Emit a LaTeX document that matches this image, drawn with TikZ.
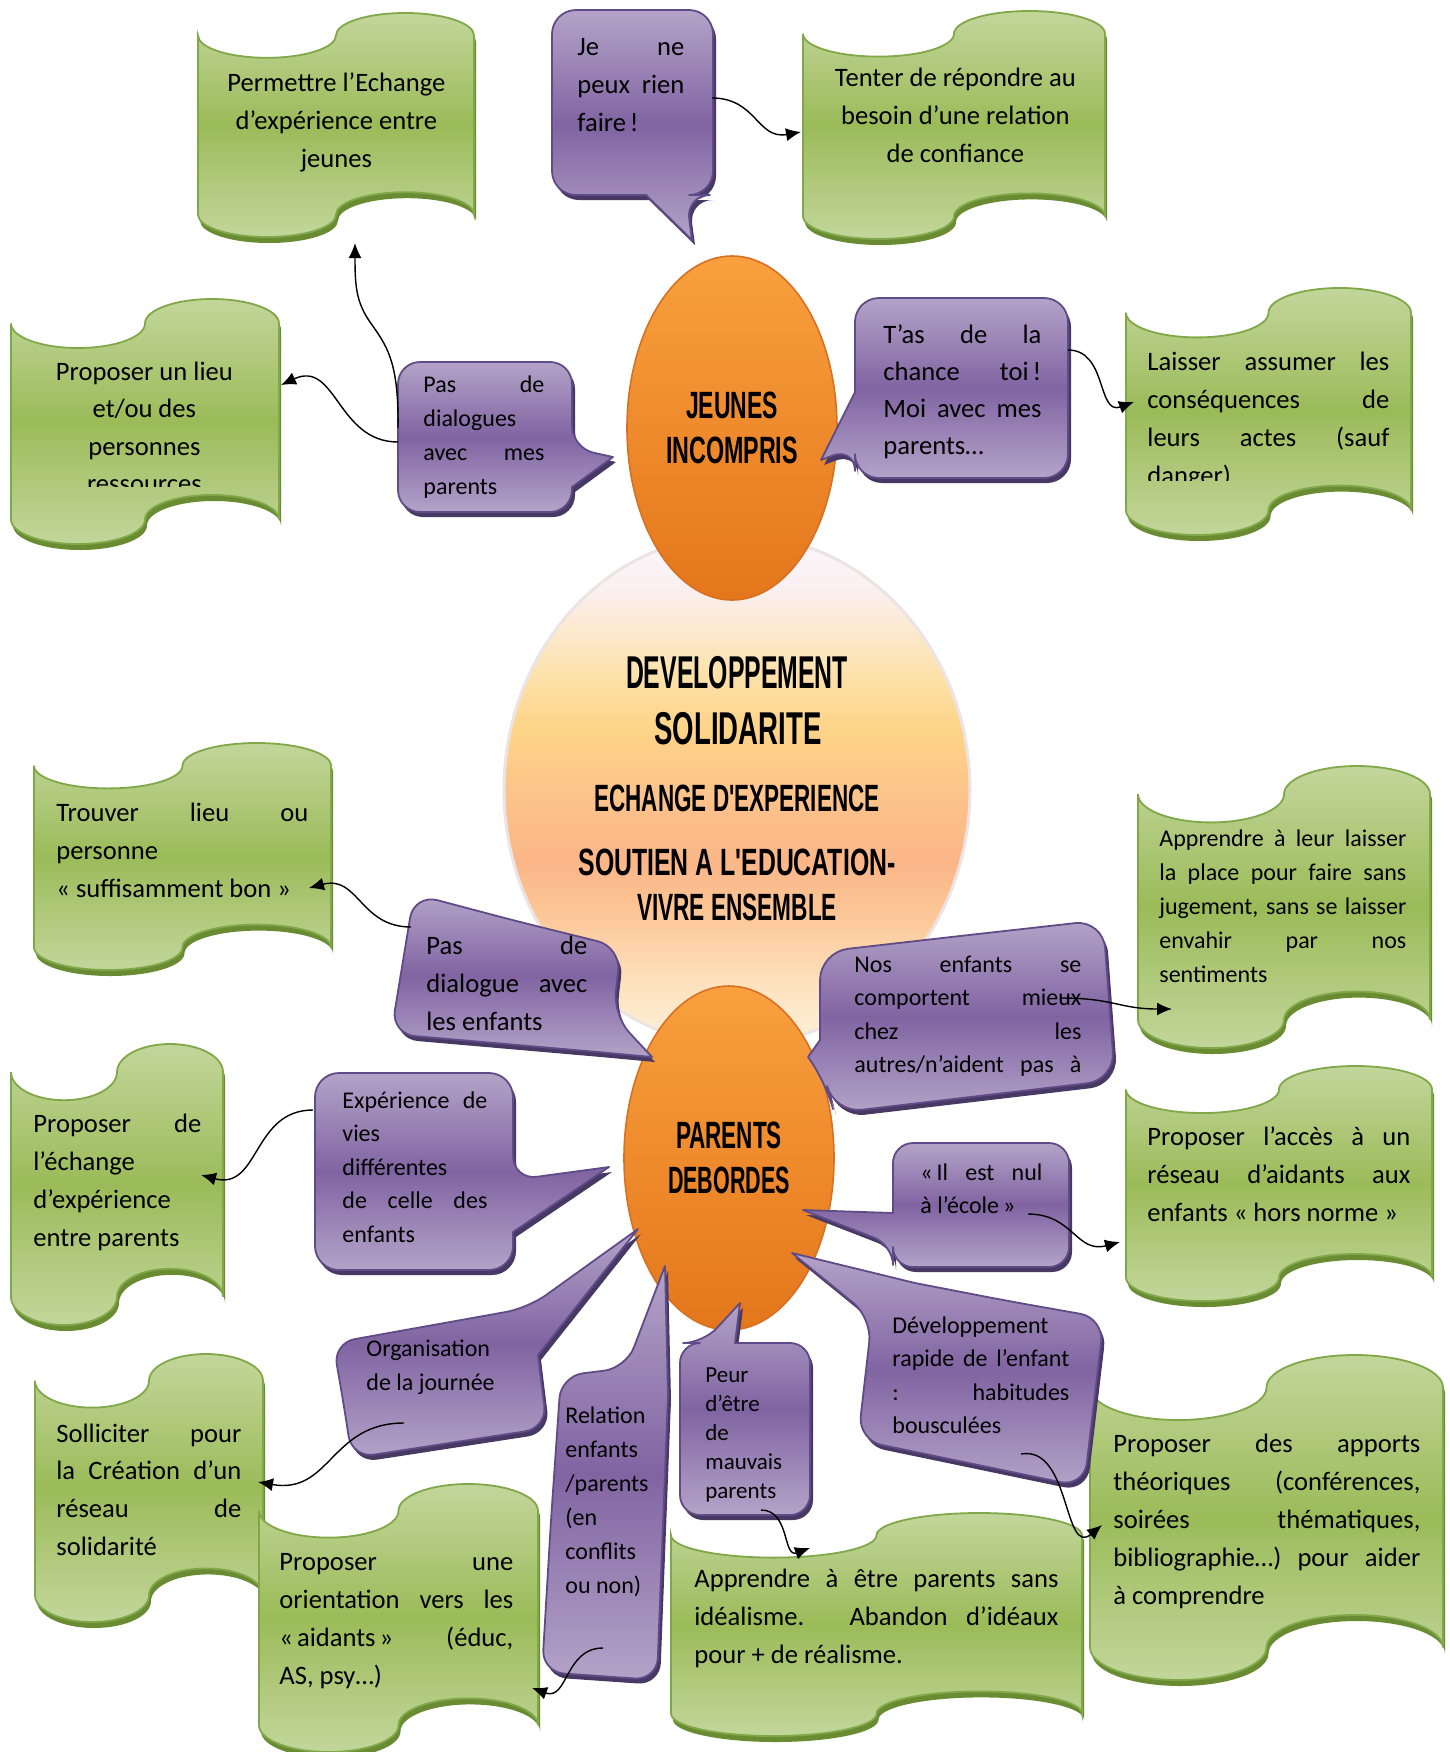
\documentclass[tikz,border=0pt]{standalone}
\usepackage{fontspec}
\setmainfont{Carlito}
\newfontfamily\capfont{Liberation Sans}[Ligatures=TeXOff]
\usepackage{graphicx}
\usetikzlibrary{shapes.geometric,arrows.meta}

\definecolor{gT}{RGB}{195,214,155}
\definecolor{gM}{RGB}{155,187,89}
\definecolor{gB}{RGB}{128,168,72}
\definecolor{gS}{RGB}{105,140,50}
\definecolor{pT}{RGB}{180,163,200}
\definecolor{pM}{RGB}{128,100,162}
\definecolor{pB}{RGB}{95,75,135}
\definecolor{pS}{RGB}{72,56,100}
\definecolor{oT}{RGB}{249,160,62}
\definecolor{oB}{RGB}{228,118,28}
\definecolor{oD}{RGB}{215,112,35}
\definecolor{cGlow}{RGB}{236,228,228}
\definecolor{cc0}{RGB}{250,246,252}
\definecolor{cc10}{RGB}{251,240,242}
\definecolor{cc27}{RGB}{253,226,172}
\definecolor{cc38}{RGB}{253,212,136}
\definecolor{cc52}{RGB}{252,194,138}
\definecolor{cc64}{RGB}{251,182,136}
\definecolor{cc73}{RGB}{252,196,148}
\definecolor{cc88}{RGB}{253,226,190}
\definecolor{cc100}{RGB}{254,240,218}

\pgfdeclareverticalshading{cshade}{100bp}{color(0bp)=(cc100); color(25bp)=(cc100); color(31bp)=(cc88); color(38.5bp)=(cc73); color(43bp)=(cc64); color(49bp)=(cc52); color(56bp)=(cc38); color(61.5bp)=(cc27); color(70bp)=(cc10); color(75bp)=(cc0); color(100bp)=(cc0)}

\newlength\boxW
\newcommand\txJ[1]{\hbox to \boxW{#1}}
\newcommand\txC[1]{\hbox to \boxW{\hfil#1\hfil}}
\newcommand\txL[1]{\hbox to \boxW{#1\hfil}}
\newcommand\tb[3]{\vtop{\boxW=#1\relax\baselineskip=#2\relax\lineskiplimit=-1000pt\relax #3}}

\newcommand\tapepath{(0,.1) .. controls (0,.1552) and (.1119,.2) .. (.25,.2) .. controls (.3881,.2) and (.5,.1552) .. (.5,.1) .. controls (.5,.0448) and (.6119,0) .. (.75,0) .. controls (.8881,0) and (1,.0448) .. (1,.1) -- (1,.9) .. controls (1,.8448) and (.8881,.8) .. (.75,.8) .. controls (.6119,.8) and (.5,.8448) .. (.5,.9) .. controls (.5,.9552) and (.3881,1) .. (.25,1) .. controls (.1119,1) and (0,.9552) .. (0,.9) -- cycle}

\newcommand\gtape[4]{%
  \fill[gS, shift={(#1+2,#2+6)}, xscale=#3, yscale=#4] \tapepath;
  \path[gbox, shift={(#1,#2)}, xscale=#3, yscale=#4] \tapepath;
}
\newcommand\callout[1]{%
  \fill[pS, shift={(3,5)}, line join=round] #1;
  \path[pbox] #1;
}

\begin{document}
\begin{tikzpicture}[x=0.5pt,y=-0.5pt,
  gbox/.style={top color=gT, bottom color=gT, middle color=gM, draw=gB, line width=0.9pt},
  pbox/.style={top color=pT, bottom color=pT, middle color=pM, draw=pB, line width=0.9pt, line join=round},
  oell/.style={ellipse, top color=oT, bottom color=oB, draw=oD, line width=0.8pt, minimum width=105pt, minimum height=172pt, inner sep=0pt, align=center, font=\capfont\bfseries\fontsize{19}{22.5}\selectfont},
  ctext/.style={inner sep=0pt, anchor=center},
  txt/.style={anchor=base west, inner sep=0pt},
  bigf/.style={font=\fontsize{13.3}{19}\selectfont},
  smallf/.style={font=\fontsize{12}{17}\selectfont},
  conn/.style={-{Latex[length=7.5pt,width=6.5pt]}, line width=0.7pt, black}]

\useasboundingbox (0,0) rectangle (1450,1752);
\fill[white] (0,0) rectangle (1450,1752);

% central ellipse
\node[ellipse, shade, shading=cshade, draw=cGlow, line width=1.5pt, minimum width=233pt, minimum height=255pt, inner sep=0pt] (centre) at (737,790) {};

% green boxes
\gtape{198}{13}{276}{224}
\gtape{11}{299}{268}{245}
\gtape{803}{11}{302}{228}
\gtape{1126}{288}{285}{247}
\gtape{34}{743}{297}{227}
\gtape{1138}{766}{292}{282}
\gtape{11}{1044}{212}{281}
\gtape{1126}{1066}{306}{235}
\gtape{35}{1354}{228}{268}
\gtape{259}{1484}{279}{268}
\gtape{671}{1513}{411}{223}
\gtape{1090}{1355}{353}{325}

% orange ellipses
\node[oell] (jeunes) at (732,428) {\resizebox{46pt}{\height}{JEUNES}\\\resizebox{66pt}{\height}{INCOMPRIS}};
\node[oell] (parents) at (729,1158) {\resizebox{53pt}{\height}{PARENTS}\\\resizebox{61pt}{\height}{DEBORDES}};

% central texts
\node[ctext, font=\capfont\bfseries\fontsize{23}{23}\selectfont] (c1) at (737,673) {\resizebox{111pt}{\height}{DEVELOPPEMENT}};
\node[ctext, font=\capfont\bfseries\fontsize{23}{23}\selectfont] (c2) at (738,729) {\resizebox{83.5pt}{\height}{SOLIDARITE}};
\node[ctext, font=\capfont\bfseries\fontsize{19}{19}\selectfont] (c3) at (737,798) {\resizebox{142.5pt}{\height}{ECHANGE D'EXPERIENCE}};
\node[ctext, font=\capfont\bfseries\fontsize{19}{19}\selectfont] (c4) at (737,862) {\resizebox{158.5pt}{\height}{SOUTIEN A L'EDUCATION-}};
\node[ctext, font=\capfont\bfseries\fontsize{19}{19}\selectfont] (c5) at (737,907) {\resizebox{100pt}{\height}{VIVRE ENSEMBLE}};

% purple callouts
\callout{(632,10) [rounded corners=12pt] -- (713,10) -- (713,195) -- (686,195) [sharp corners] -- (692,240) -- (646,195) [rounded corners=12pt] -- (552,195) -- (552,10) -- cycle}
\callout{(485,362) [rounded corners=11pt] -- (572,362) -- (572,448) [sharp corners] -- (613,457) -- (572,487) [rounded corners=11pt] -- (572,512) -- (398,512) -- (398,362) -- cycle}
\callout{(960,298) [rounded corners=12pt] -- (1068,298) -- (1068,478) -- (855,478) -- (855,447) [sharp corners] -- (821,460) -- (855,392) [rounded corners=12pt] -- (855,298) -- cycle}
\callout{(516,921) [rounded corners=12pt] -- (621,947) -- (613,1015) [sharp corners] -- (652,1057) -- (598,1052) [rounded corners=12pt] -- (391,1034) -- (414,894) -- cycle}
\callout{(960,936) [rounded corners=14pt] -- (1103,920) -- (1115,1080) -- (834,1113) -- (826,1082) [sharp corners] -- (808,1057) -- (820,1040) [rounded corners=14pt] -- (820,952) -- cycle}
\callout{(414,1073) [rounded corners=12pt] -- (513,1073) -- (513,1180) [sharp corners] -- (609,1167) -- (513,1232) [rounded corners=12pt] -- (513,1270) -- (315,1270) -- (315,1073) -- cycle}
\callout{(980,1143) [rounded corners=10pt] -- (1069,1143) -- (1069,1267) -- (893,1267) -- (893,1245) [sharp corners] -- (803,1210) -- (893,1213) [rounded corners=10pt] -- (893,1143) -- cycle}
\callout{(343,1400) [rounded corners=11pt] -- (333,1343) -- (528,1308) [sharp corners] -- (638,1229) -- (538,1355) [rounded corners=11pt] -- (547,1428) -- (352,1458) -- cycle}
\callout{(551,1520) [rounded corners=11pt] -- (561,1376) -- (626,1368) [sharp corners] -- (665,1266) -- (668,1395) [rounded corners=11pt] -- (657,1680) -- (542,1672) -- cycle}
\callout{(760,1343) [rounded corners=10pt] -- (810,1343) -- (810,1515) -- (680,1515) -- (680,1343) -- (703,1343) [sharp corners] -- (740,1303) -- (735,1343) [rounded corners=10pt] -- cycle}
\callout{(1008,1301) [rounded corners=12pt] -- (1104,1318) -- (1084,1487) -- (858,1440) -- (872,1318) [sharp corners] -- (792,1253) -- (915,1283) [rounded corners=12pt] -- cycle}

% green texts
\node[txt,bigf] (tG1) at (221,91) {\tb{115pt}{19pt}{\txC{Permettre l’Echange}\txC{d’expérience entre}\txC{jeunes}}};
\begin{scope}
\clip (0,0) rectangle (1450,486);
\node[txt,bigf] (tG2) at (54,380) {\tb{90pt}{18.75pt}{\txC{Proposer un lieu}\txC{et/ou des}\txC{personnes}\txC{ressources}}};
\end{scope}
\node[txt,bigf] (tG3) at (825,86) {\tb{130pt}{19pt}{\txC{Tenter de répondre au}\txC{besoin d’une relation}\txC{de confiance}}};
\begin{scope}
\clip (0,0) rectangle (1450,480);
\node[txt,bigf] (tG4) at (1147,370) {\tb{121pt}{19pt}{\txJ{Laisser assumer les}\txJ{conséquences de}\txJ{leurs actes (sauf}\txL{danger)}}};
\end{scope}
\node[txt,bigf] (tG5) at (56,821) {\tb{126pt}{19pt}{\txJ{Trouver lieu ou}\txL{personne}\txL{« suffisamment bon »}}};
\node[txt,smallf] (tG6) at (1159,846) {\tb{123.5pt}{17pt}{\txJ{Apprendre à leur laisser}\txJ{la place pour faire sans}\txJ{jugement, sans se laisser}\txJ{envahir par nos}\txL{sentiments}}};
\node[txt,bigf] (tG7) at (33,1132) {\tb{84pt}{19pt}{\txJ{Proposer de}\txL{l’échange}\txL{d’expérience}\txL{entre parents}}};
\node[txt,bigf] (tG8) at (1147,1145) {\tb{131.5pt}{19pt}{\txJ{Proposer l’accès à un}\txJ{réseau d’aidants aux}\txL{enfants « hors norme »}}};
\node[txt,bigf] (tG9) at (56,1442) {\tb{92.5pt}{18.85pt}{\txJ{Solliciter pour}\txJ{la Création d’un}\txJ{réseau de}\txL{solidarité}}};
\node[txt,bigf] (tG10) at (279,1570) {\tb{117pt}{19pt}{\txJ{Proposer une}\txJ{orientation vers les}\txJ{«\kern2pt aidants\kern2pt» (éduc,}\txL{AS, psy…)}}};
\node[txt,bigf] (tG11) at (694,1587) {\tb{182pt}{19pt}{\txJ{Apprendre à être parents sans}\txJ{idéalisme. Abandon d’idéaux}\txL{pour + de réalisme.}}};
\node[txt,bigf] (tG12) at (1113,1452) {\tb{153.5pt}{19pt}{\txJ{Proposer des apports}\txJ{théoriques (conférences,}\txJ{soirées thématiques,}\txJ{bibliographie…) pour aider}\txL{à comprendre}}};

% purple texts
\node[txt,bigf] (tP1) at (577,55) {\tb{53.5pt}{19pt}{\txJ{Je ne}\txJ{peux rien}\txL{faire\kern2pt!}}};
\node[txt,smallf] (tP2) at (423,392) {\tb{60.5pt}{17pt}{\txJ{Pas de}\txL{dialogues}\txJ{avec mes}\txL{parents}}};
\node[txt,bigf] (tP3) at (883,343) {\tb{79pt}{18.5pt}{\txJ{T’as de la}\txJ{chance toi\kern2pt!}\txJ{Moi avec mes}\txL{parents…}}};
\node[txt,bigf] (tP4) at (426,954) {\tb{80.5pt}{19pt}{\txJ{Pas de}\txJ{dialogue avec}\txL{les enfants}}};
\node[txt,smallf] (tP5) at (854,972) {\tb{113.5pt}{16.75pt}{\txJ{Nos enfants se}\txJ{comportent mieux}\txJ{chez les}\txJ{autres/n’aident pas à}}};
\node[txt,smallf] (tP6) at (342,1108) {\tb{72.5pt}{16.75pt}{\txJ{Expérience de}\txL{vies}\txL{différentes}\txJ{de celle des}\txL{enfants}}};
\node[txt,smallf] (tP7) at (920,1180) {\tb{61pt}{16.5pt}{\txJ{«\kern2pt Il est nul}\txL{à l’école\kern2pt»}}};
\node[txt,smallf] (tP8) at (366,1356) {\tb{70pt}{17pt}{\txL{Organisation}\txL{de la journée}}};
\node[txt,smallf] (tP9) at (565,1423) {\tb{45pt}{17pt}{\txL{Relation}\txL{enfants}\txL{/parents}\txL{(en}\txL{conflits}\txL{ou non)}}};
\node[txt,font=\fontsize{11.5}{14.5}\selectfont] (tP10) at (705,1382) {\tb{50pt}{14.5pt}{\txL{Peur}\txL{d’être}\txL{de}\txL{mauvais}\txL{parents}}};
\node[txt,smallf] (tP11) at (892,1333) {\tb{88.5pt}{16.75pt}{\txL{Développement}\txJ{rapide de l’enfant}\txJ{: habitudes}\txL{bousculées}}};

% connectors
\coordinate (a1s) at (712,98);   \coordinate (a1e) at (801,132);
\coordinate (a2s) at (398,442);  \coordinate (a2e) at (281,385);
\coordinate (a3s) at (398,428);  \coordinate (a3e) at (355,243);
\coordinate (a4s) at (1068,350); \coordinate (a4e) at (1134,402);
\coordinate (a5s) at (411,927);  \coordinate (a5e) at (309,888);
\coordinate (a6s) at (1061,998); \coordinate (a6e) at (1172,1009);
\coordinate (a7s) at (313,1110); \coordinate (a7e) at (201,1175);
\coordinate (a8s) at (1028,1214);\coordinate (a8e) at (1120,1242);
\coordinate (a9s) at (404,1423); \coordinate (a9e) at (258,1482);
\coordinate (a10s) at (603,1648);\coordinate (a10e) at (532,1688);
\coordinate (a11s) at (761,1510);\coordinate (a11e) at (810,1548);
\coordinate (a12s) at (1021,1454);\coordinate (a12e) at (1102,1525);

\draw[conn] (a1s) to[out=0,in=190,looseness=1.2] (a1e);
\draw[conn] (a2s) to[out=180,in=25,looseness=1.2] (a2e);
\draw[conn] (a3s) .. controls (399,360) and (386,345) .. (370,322) .. controls (356,302) and (355,285) .. (a3e);
\draw[conn] (a4s) to[out=0,in=200,looseness=1.2] (a4e);
\draw[conn] (a5s) to[out=180,in=15,looseness=1.2] (a5e);
\draw[conn] (a6s) to[out=0,in=180,looseness=1.2] (a6e);
\draw[conn] (a7s) to[out=180,in=-15,looseness=1.2] (a7e);
\draw[conn] (a8s) to[out=0,in=195,looseness=1.2] (a8e);
\draw[conn] (a9s) to[out=180,in=-10,looseness=1.2] (a9e);
\draw[conn] (a10s) to[out=180,in=-20,looseness=1.2] (a10e);
\draw[conn] (a11s) to[out=0,in=200,looseness=1.2] (a11e);
\draw[conn] (a12s) to[out=10,in=220,looseness=1.2] (a12e);
\end{tikzpicture}
\end{document}
